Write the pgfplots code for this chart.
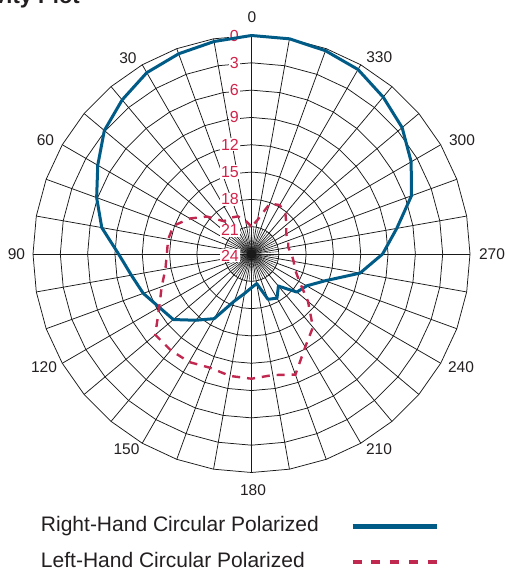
\documentclass[border=0pt]{standalone}
\usepackage{pgfplots}
\pgfplotsset{compat=1.18}
\usepackage{pgfplotstable}
\usetikzlibrary{calc}
\usepackage{fontspec}
\setmainfont{Liberation Sans}

\definecolor{rhcp}{RGB}{0,91,135}
\definecolor{lhcp}{RGB}{193,40,79}
\definecolor{rlab}{RGB}{210,35,75}
\definecolor{alab}{RGB}{35,31,32}

\tikzset{
  gridline/.style={black!90, line width=0.75pt},
  anglab/.style={font=\fontsize{15.5}{18}\selectfont, text=alab, inner sep=0pt, anchor=center},
  rlabel/.style={font=\fontsize{16}{18}\selectfont, text=rlab, fill=white, inner sep=1pt, anchor=east, xshift=-11.5pt},
}

% angle (deg, counter-clockwise from top) and level (dB below peak)
\pgfplotstableread{
ang val
0 0
10 0.3
20 0.6
30 1.0
40 1.9
50 2.9
60 4.5
70 5.9
80 7.3
90 9.4
100 10.6
110 11.35
120 12.3
130 12.8
140 14.5
150 15.8
160 18.5
170 19.6
180 20.3
190 20.7
200 18.7
210 18.4
220 19.4
230 17.5
240 17.0
250 15.4
260 11.9
270 9.6
280 7.8
290 5.3
300 3.75
310 2.4
320 1.5
330 0.6
340 0.24
350 0
360 0
}\rhcpdata

\pgfplotstableread{
ang val
0 21.0
10 20.3
20 19.6
30 19.4
40 19.3
50 17.6
60 16.2
70 14.9
80 14.7
90 14.7
100 14.4
110 13.5
120 12.3
130 10.2
140 10.2
150 10.3
160 10.7
170 10.4
180 10.3
190 10.5
200 9.9
210 12.2
220 13.5
230 15.9
240 17.9
250 18.9
260 19.3
270 19.6
280 19.9
290 19.7
300 19.6
310 19.0
320 18.2
330 17.8
340 18.1
350 20.2
360 21.0
}\lhcpdata

\begin{document}
\begin{tikzpicture}[x=1pt,y=1pt]
\begin{axis}[
  name=ax, anchor=origin,
  scale only axis, width=437pt, height=437pt,
  xmin=-24, xmax=24, ymin=-24, ymax=24,
  hide axis, clip=false,
  legend plot pos=right,
  legend cell align=left,
  legend style={at={(axis description cs:0.0183,-0.1011)}, anchor=north west,
    draw=none, fill=none, inner sep=0pt, outer sep=0pt,
    row sep=16pt, column sep=31pt,
    font=\fontsize{21}{25}\selectfont, text=alab,
    nodes={inner sep=0pt, text height=15pt, text depth=4.5pt}},
]
% spokes
\pgfplotsinvokeforeach{0,10,...,350}{
  \draw[gridline] (axis cs:0,0) -- (axis cs:{24*cos(#1)},{24*sin(#1)});
}
\pgfplotsinvokeforeach{5,15,...,355}{
  \draw[gridline, line width=0.4pt] (axis cs:0,0) -- (axis cs:{3*cos(#1)},{3*sin(#1)});
}
% rings
\pgfplotsinvokeforeach{3,6,...,24}{
  \draw[gridline] (axis cs:#1,0) \foreach \t in {10,20,...,350}{ -- (axis cs:{#1*cos(\t)},{#1*sin(\t)}) } -- cycle;
}
\fill[black!90] (axis cs:0,0) circle[radius=0.5];

% angle labels
\node[anglab, xshift=0.5pt,    yshift=237.3pt] at (axis cs:0,0) {0};
\node[anglab, xshift=-123.5pt, yshift=196pt]   at (axis cs:0,0) {30};
\node[anglab, xshift=-206pt,   yshift=114pt]   at (axis cs:0,0) {60};
\node[anglab, xshift=-235pt,   yshift=0pt]     at (axis cs:0,0) {90};
\node[anglab, xshift=-207.5pt, yshift=-113pt]  at (axis cs:0,0) {120};
\node[anglab, xshift=-125pt,   yshift=-195.2pt] at (axis cs:0,0) {150};
\node[anglab, xshift=1.5pt,    yshift=-236.5pt] at (axis cs:0,0) {180};
\node[anglab, xshift=127.5pt,  yshift=-195.2pt] at (axis cs:0,0) {210};
\node[anglab, xshift=209.5pt,  yshift=-113pt]  at (axis cs:0,0) {240};
\node[anglab, xshift=240.5pt,  yshift=0pt]     at (axis cs:0,0) {270};
\node[anglab, xshift=210.5pt,  yshift=114pt]   at (axis cs:0,0) {300};
\node[anglab, xshift=127.8pt,  yshift=196.5pt] at (axis cs:0,0) {330};

% level labels
\node[rlabel] at (axis cs:0,24) {0};
\node[rlabel] at (axis cs:0,21) {3};
\node[rlabel] at (axis cs:0,18) {6};
\node[rlabel] at (axis cs:0,15) {9};
\node[rlabel] at (axis cs:0,12) {12};
\node[rlabel] at (axis cs:0,9) {15};
\node[rlabel] at (axis cs:0,6) {18};
\node[rlabel] at (axis cs:0,2.6) {21};
\node[rlabel] at (axis cs:0,-0.2) {24};

\addplot[rhcp, line width=3pt, line join=round, data cs=polar,
  legend image code/.code={\draw[rhcp, line width=5.5pt] (0pt,0pt) -- (84pt,0pt);}]
  table[x expr=\thisrow{ang}+90, y expr=24-\thisrow{val}] {\rhcpdata};
\addlegendentry{Right-Hand Circular Polarized}
\addplot[lhcp, line width=2.4pt, dash pattern=on 8pt off 7pt, data cs=polar,
  legend image code/.code={\draw[lhcp, line width=3.3pt, dash pattern=on 9pt off 9.75pt] (0pt,0pt) -- (84pt,0pt);}]
  table[x expr=\thisrow{ang}+90, y expr=24-\thisrow{val}] {\lhcpdata};
\addlegendentry{Left-Hand Circular Polarized}
\end{axis}
\node[anchor=base east, font=\fontsize{22}{26}\selectfont\bfseries, text=alab, inner sep=0pt] at ($(ax.origin)+(-171.5pt,250pt)$) {Directivity Plot};
\pgfresetboundingbox
\useasboundingbox ($(ax.origin)+(-251.5pt,-318pt)$) rectangle ($(ax.origin)+(254.5pt,254pt)$);
\end{tikzpicture}
\end{document}
